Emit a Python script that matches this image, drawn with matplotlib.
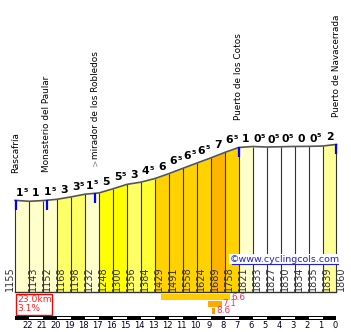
import numpy as np
import matplotlib
matplotlib.use("Agg")
import matplotlib.pyplot as plt
from matplotlib.patches import Rectangle

# altitude (m) at every kilometre, Rascafría (km 23) up to the pass (km 0)
altitudes = [1155, 1143, 1152, 1168, 1198, 1232, 1248, 1300, 1356, 1384, 1429,
             1491, 1558, 1624, 1689, 1758, 1821, 1833, 1827, 1830, 1834, 1835,
             1839, 1860]
# gradient written over each kilometre (x.5 is drawn as a small 5)
gradients = [1.5, 1, 1.5, 3, 3.5, 1.5, 5, 5.5, 3, 4.5, 6, 6.5, 6.5, 6.5, 7,
             6.5, 1, 0.5, 0.5, 0.5, 0, 0.5, 2]

places = ["Rascafría", "Monasterio del Paular", "mirador de los Robledos",
          "Puerto de los Cotos", "Puerto de Navacerrada"]
place_prefix = ["", "", ">", "", ""]
place_km = [0.07, 2.27, 5.73, 16.0, 23.0]   # km from the start

# steepest stretches (km from the start) and their average gradient
steep_from = [10.45, 13.83, 14.11]
steep_to = [15.38, 14.79, 14.33]
steep_pct = [6.6, 7.1, 8.6]
steep_cols = ["#ffcc00", "#ffaa00", "#ff9900"]

total_km = 23.0
avg_pct = 3.1

PX_KM = 13.978   # pixels per km
M_PX = 12.6      # metres per pixel
X0, BASE = 15, 292


def px_x(p):
    return (p - X0) / PX_KM


def px_y(p):
    return (BASE - p) * M_PX


def colour(g):
    if g < 1:
        return "white"
    if g < 2:
        return "#ffffcc"
    if g < 3:
        return "#ffff99"
    if g < 4:
        return "#ffff66"
    if g < 5:
        return "#ffff33"
    if g < 6:
        return "#ffff00"
    if g < 7:
        return "#ffd200"
    return "#ffb400"


fig = plt.figure(figsize=(3.51, 3.32), dpi=100)
ax = fig.add_axes([0, 0, 1, 1])
ax.set_xlim(px_x(0), px_x(351))
ax.set_ylim(px_y(332), px_y(0))
ax.axis("off")

x = np.arange(len(altitudes))
for i, g in enumerate(gradients):
    ax.fill_between([i, i + 1], [0, 0], altitudes[i:i + 2], color=colour(g),
                    lw=0, zorder=1)
    top = max(altitudes[i], altitudes[i + 1])
    whole = int(g)
    half = g - whole > 0
    # main digit, with a small raised 5 for the half percent
    ax.annotate(str(whole), (i + 0.5, top), xytext=(-1.6 if half else 0, 3),
                textcoords="offset points", ha="center", va="baseline",
                fontsize=7.8, fontweight="bold", zorder=5)
    if half:
        ax.annotate("5", (i + 0.5, top), xytext=(2.6, 6.2),
                    textcoords="offset points", ha="center", va="baseline",
                    fontsize=4.6, fontweight="bold", zorder=5)
ax.vlines(x, 0, altitudes, color="#333333", lw=0.8, zorder=2)
ax.plot(x, altitudes, color="#555555", lw=1.2, zorder=3)
ax.plot([0, 23], [0, 0], color="#333333", lw=1, zorder=3)

# altitude labels along the bottom
for i, h in enumerate(altitudes):
    dx = -0.36 if i == 0 else 0.32
    ax.text(i + dx, px_y(291), str(h), rotation=90, ha="center", va="bottom",
            fontsize=7, color="#333333", zorder=4)

# named places with blue markers
for name, pre, k in zip(places, place_prefix, place_km):
    h = np.interp(k, x, altitudes)
    ax.vlines(k, h - 10 * M_PX, h, color="#0000ff", lw=1.6, zorder=4)
    off = 20
    if pre:
        ax.annotate(pre, (k, h), xytext=(0, off), textcoords="offset points",
                    rotation=90, ha="center", va="bottom", fontsize=6.4,
                    color="#888888")
        off += 4.5
    ax.annotate(name, (k, h), xytext=(0, off), textcoords="offset points",
                rotation=90, ha="center", va="bottom", fontsize=6.4,
                color="black")

# site credit
blue = "#2020e0"
ax.text(px_x(285), px_y(261.5), "©www.cyclingcols.com", color=blue,
        fontsize=6.8, ha="center", va="baseline", zorder=6,
        bbox=dict(fc="white", ec="none", pad=0.6))
ax.plot([px_x(232), px_x(338)], [px_y(263.5)] * 2, color=blue, lw=0.8, zorder=7)

# length / average gradient box
ax.add_patch(Rectangle((px_x(15.5), px_y(315)), (51.5 - 15.5) / PX_KM,
                       (315 - 293.5) * M_PX, fill=False, ec="red", lw=1))
ax.text(px_x(17), px_y(295), f"{total_km:.1f}km\n{avg_pct:.1f}%",
        color="#ff2020", fontsize=6.6, ha="left", va="top", linespacing=1.05)

# steepest stretches
for row, (a, b, p, c) in enumerate(zip(steep_from, steep_to, steep_pct, steep_cols)):
    top = 294 + row * 6.8
    ax.add_patch(Rectangle((a, px_y(top + 6)), b - a, 6 * M_PX, color=c, lw=0))
    ax.text(b + 0.07, px_y(top + 3), f"{p:.1f}", color="#ff3050", fontsize=6.4,
            ha="left", va="center")

# km scale
ax.add_patch(Rectangle((0, px_y(319.5)), 23, 4 * M_PX, color="black", lw=0))
for i in range(1, 23, 2):
    ax.add_patch(Rectangle((i, px_y(318.5)), 1, 2 * M_PX, color="white", lw=0))
for i in range(1, 24):
    ax.text(i - 0.1, px_y(325.5), str(23 - i), ha="center", va="center",
            fontsize=6, color="#000022")

fig.savefig("out.png", dpi=100)
